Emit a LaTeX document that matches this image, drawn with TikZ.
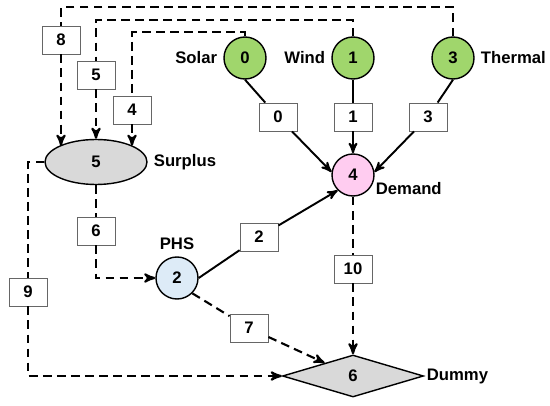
\documentclass[tikz,border=0pt]{standalone}
\usepackage{fontspec}
\setmainfont{Liberation Sans}
\usetikzlibrary{shapes.geometric, positioning, arrows, arrows.meta}
\definecolor{srcgreen}{RGB}{160,214,108}
\definecolor{dempink}{RGB}{255,204,240}
\definecolor{phsblue}{RGB}{221,235,247}
\definecolor{sinkgray}{RGB}{217,217,217}
\tikzset{
    every node/.style={font=\fontsize{9.5}{11}\selectfont\bfseries}, % Bold sans labels
    bus/.style={circle, draw, line width=0.8pt, minimum size=0.84cm, inner sep=0pt}, % Round nodes
    lbl/.style={rectangle, draw=black!60, line width=0.5pt, fill=white, minimum width=0.76cm, minimum height=0.56cm, inner sep=0pt}, % Edge boxes
    flow/.style={line width=1.1pt}, % Solid connectors
    spill/.style={line width=1.2pt, dash pattern=on 5pt off 3pt}, % Dashed connectors
}

\begin{document}
\begin{tikzpicture}[>=stealth', node distance=2cm]
        \useasboundingbox (0,0) rectangle (11,-8.12);

        % Sources
        \node[bus, fill=srcgreen, label=left:Wind] (n1) at (7.06,-1.16) {1};
        \node[bus, fill=srcgreen, label=left:Solar] (n0) [left of=n1, node distance=2.16cm] {0};
        \node[bus, fill=srcgreen, label=right:Thermal] (n3) [right of=n1] {3};

        % Demand, surplus, storage and dummy
        \node[bus, fill=dempink, label={[anchor=west]-40:Demand}] (n4) [below of=n1, node distance=2.34cm] {4};
        \node[ellipse, draw, line width=0.8pt, fill=sinkgray, minimum width=2.04cm, minimum height=0.9cm, inner sep=0pt, label=right:Surplus] (n5) at (1.92,-3.24) {5};
        \node[bus, fill=phsblue, label=above:PHS] (n2) at (3.54,-5.56) {2};
        \node[diamond, draw, line width=0.8pt, fill=sinkgray, aspect=3.36, minimum width=2.82cm, minimum height=0.84cm, inner sep=0pt, label={[xshift=-2pt]right:Dummy}] (n6) [below of=n4, node distance=4.02cm] {6};

        % Edge boxes
        \node[lbl] (e0) at (5.56,-2.34) {0};
        \node[lbl] (e1) [below of=n1, node distance=1.18cm] {1};
        \node[lbl] (e3) at (8.56,-2.34) {3};
        \node[lbl] (e2) at (5.18,-4.74) {2};
        \node[lbl] (e10) [below of=n4, node distance=1.88cm] {10};
        \node[lbl] (e7) at (4.98,-6.56) {7};
        \node[lbl] (e6) [below of=n5, node distance=1.38cm] {6};
        \node[lbl] (e9) at (0.56,-5.84) {9};
        \node[lbl] (e8) at (1.22,-0.80) {8};
        \node[lbl] (e5) [above of=n5, node distance=1.74cm] {5};
        \node[lbl] (e4) at (2.64,-2.20) {4};

        % Solid flows into demand
        \path[flow] (n0.south) edge (e0)
              (e0) edge[->] (n4.172)
              (n1) edge (e1)
              (e1) edge[->] (n4)
              (n3.south) edge (e3)
              (e3) edge[->] (n4.8)
              (n2.east) edge (e2)
              (e2) edge[->] (n4.225);

        % Dashed flows
        \draw[spill] (n0.north) -- ++(0,0.08) -| (e4);
        \draw[spill, ->] (e4) -- (e4 |- n5.24);
        \draw[spill] (n1.north) -- ++(0,0.32) -| (e5);
        \draw[spill, ->] (e5) -- (n5.north);
        \draw[spill] (n3.north) -- ++(0,0.58) -| (e8);
        \draw[spill, ->] (e8) -- (e8 |- n5.156);
        \draw[spill] (n5.south) -- (e6);
        \draw[spill, ->] (e6) |- (n2);
        \draw[spill] (n5.west) -| (e9);
        \draw[spill, ->] (e9) |- (n6.west);
        \draw[spill] (n4) -- (e10);
        \draw[spill, ->] (e10) -- (n6.north);
        \draw[spill] (n2.south east) -- (e7);
        \draw[spill, ->] (e7) -- (n6);
    \end{tikzpicture}
\end{document}
